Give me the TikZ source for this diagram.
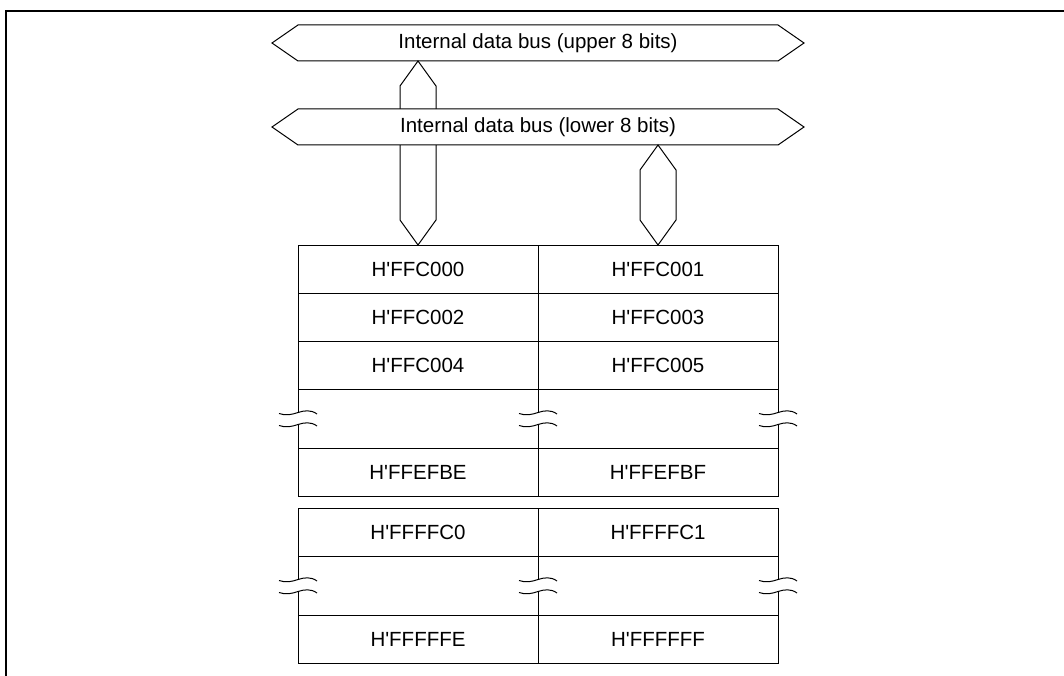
\documentclass[tikz,border=0pt]{standalone}
\usepackage{fontspec}
\setmainfont{Liberation Sans}[Ligatures=TeXOff]
\usetikzlibrary{calc}

% vertical bus link: tip at #1, down to tip at #2
\newcommand{\buslink}[2]{%
  \draw[fill=white] (#1) -- ++(18,25) -- ($(#2)+(18,-25)$) -- (#2)
    -- ($(#2)+(-18,-25)$) -- ($(#1)+(-18,25)$) -- cycle;}

% horizontal bus body round the centre #1
\newcommand{\busbody}[1]{%
  \draw[fill=white] ($(#1)+(-266,0)$) -- ++(26,-18) -- ++(480,0) -- ++(26,18)
    -- ++(-26,18) -- ++(-480,0) -- cycle;}

% break mark on a column line at #1
\newcommand{\breakmark}[1]{%
  \fill[white] ($(#1)+(-2,-5.5)$) rectangle ($(#1)+(2,5.5)$);
  \foreach \dy in {-6,6}
    \draw ($(#1)+(-19,1+\dy)$) .. controls +(7,2.5) and +(-6,2) .. ($(#1)+(0,\dy)$)
      .. controls +(6,-2) and +(-6,-4.5) .. ($(#1)+(19,1.5+\dy)$);}

\begin{document}
\begin{tikzpicture}[x=1pt, y=-1pt, line width=1pt,
    font=\fontsize{20.5}{24}\selectfont,
    cell/.style={draw, minimum width=240pt, minimum height=48pt,
      inner sep=0pt, outer sep=0pt, anchor=north west},
    gap/.style={cell, minimum height=59pt}]
    \useasboundingbox (0,0) rectangle (1064,676);

    % frame
    \draw[line width=2pt] (6,676) -- (6,11) -- (1064,11);

    % first block
    \node[cell] (a0) at (298,245) {H'FFC000};
    \node[cell] (b0) at (538,245) {H'FFC001};
    \node[cell] (a1) at (298,293) {H'FFC002};
    \node[cell] (b1) at (538,293) {H'FFC003};
    \node[cell] (a2) at (298,341) {H'FFC004};
    \node[cell] (b2) at (538,341) {H'FFC005};
    \node[gap]  (a3) at (298,389) {};
    \node[gap]  (b3) at (538,389) {};
    \node[cell] (a4) at (298,448) {H'FFEFBE};
    \node[cell] (b4) at (538,448) {H'FFEFBF};

    % second block
    \node[cell] (c0) at (298,508) {H'FFFFC0};
    \node[cell] (d0) at (538,508) {H'FFFFC1};
    \node[gap]  (c1) at (298,556) {};
    \node[gap]  (d1) at (538,556) {};
    \node[cell] (c2) at (298,615) {H'FFFFFE};
    \node[cell] (d2) at (538,615) {H'FFFFFF};

    \breakmark{a3.west} \breakmark{a3.east} \breakmark{b3.east}
    \breakmark{c1.west} \breakmark{c1.east} \breakmark{d1.east}

    % buses
    \coordinate (busU) at (538,43);
    \coordinate (busL) at (538,127);
    \busbody{busU}
    \node (busUtxt) at (busU) {Internal data bus (upper 8 bits)};
    \coordinate (linkU) at ($(a0.north |- busU)+(0,18)$);
    \buslink{linkU}{a0.north}
    \busbody{busL}
    \node (busLtxt) at (busL) {Internal data bus (lower 8 bits)};
    \coordinate (linkL) at ($(b0.north |- busL)+(0,18)$);
    \buslink{linkL}{b0.north}
\end{tikzpicture}
\end{document}
